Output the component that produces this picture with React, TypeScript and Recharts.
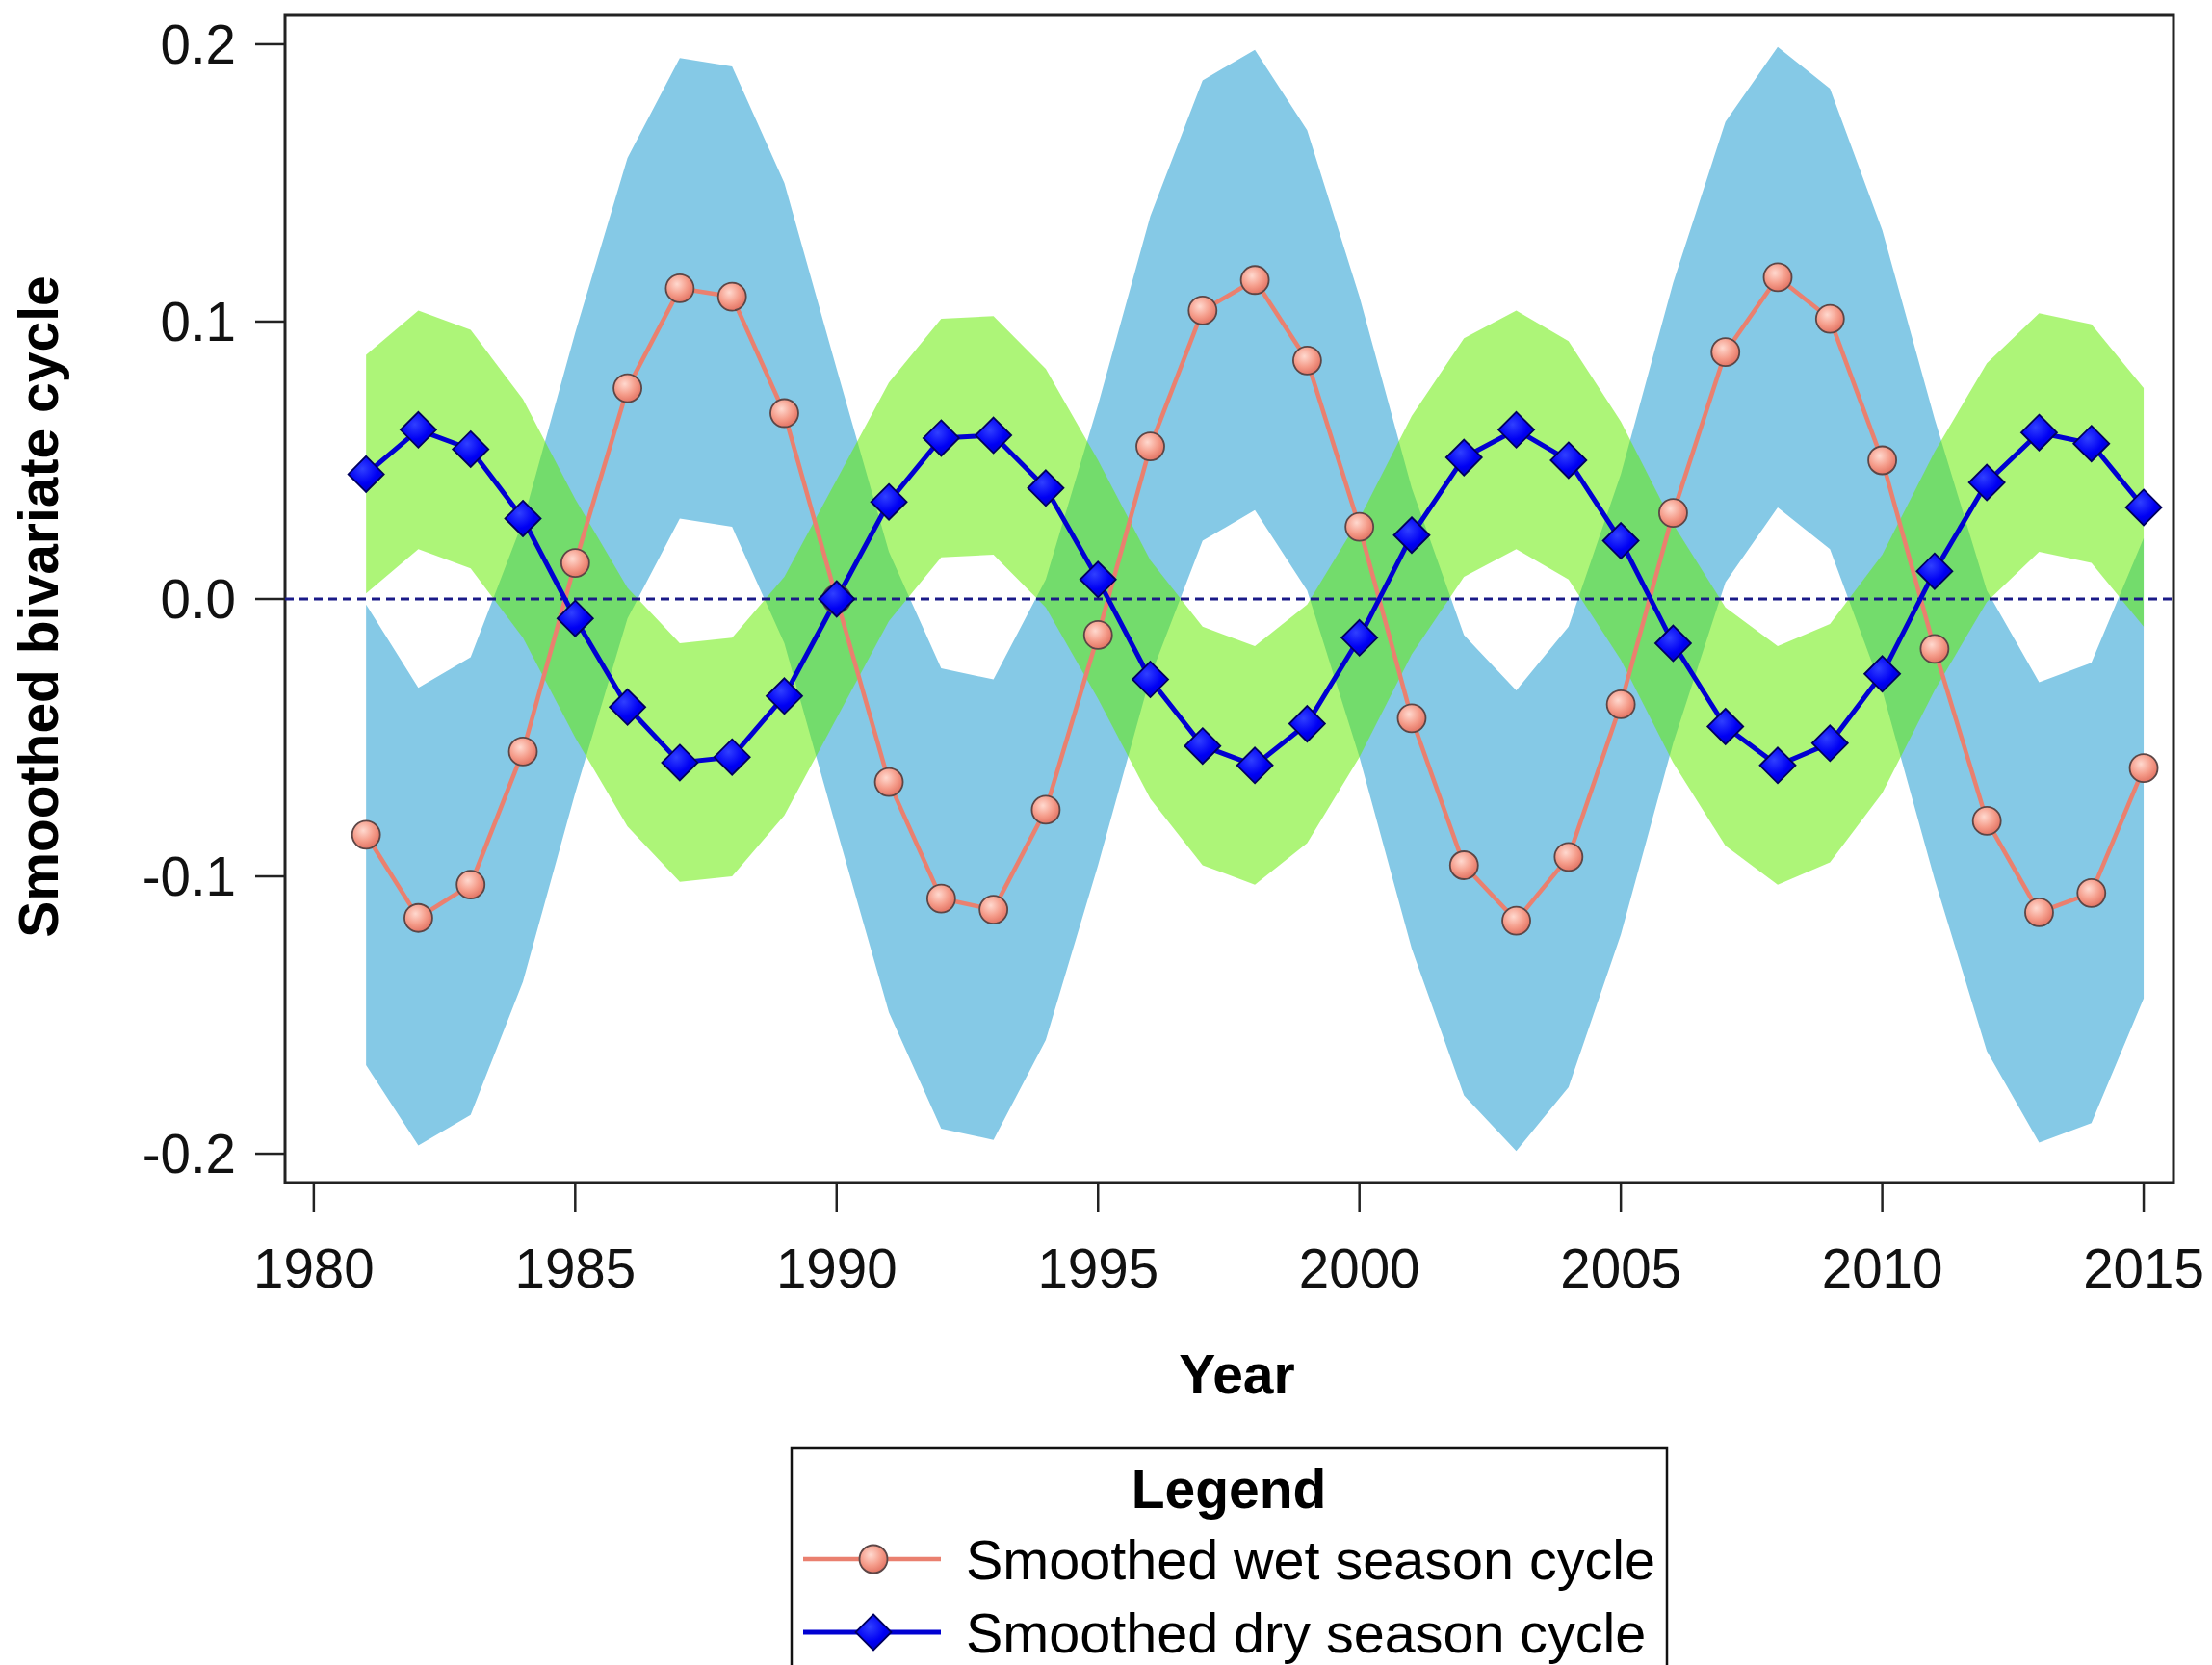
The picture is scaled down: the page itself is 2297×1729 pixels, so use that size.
import React from 'react';
import { ComposedChart, Area, Line, XAxis, YAxis, ReferenceLine, ReferenceArea } from 'recharts';

const years = [1981, 1982, 1983, 1984, 1985, 1986, 1987, 1988, 1989, 1990, 1991, 1992, 1993, 1994, 1995, 1996, 1997, 1998, 1999, 2000, 2001, 2002, 2003, 2004, 2005, 2006, 2007, 2008, 2009, 2010, 2011, 2012, 2013, 2014, 2015];

const wetCycle = [-0.085, -0.115, -0.103, -0.055, 0.013, 0.076, 0.112, 0.109, 0.067, 0.000, -0.066, -0.108, -0.112, -0.076, -0.013, 0.055, 0.104, 0.115, 0.086, 0.026, -0.043, -0.096, -0.116, -0.093, -0.038, 0.031, 0.089, 0.116, 0.101, 0.050, -0.018, -0.080, -0.113, -0.106, -0.061];
const wetLower = [-0.168, -0.197, -0.186, -0.138, -0.070, -0.007, 0.029, 0.026, -0.016, -0.083, -0.149, -0.191, -0.195, -0.159, -0.096, -0.028, 0.021, 0.032, 0.003, -0.057, -0.126, -0.179, -0.199, -0.176, -0.121, -0.052, 0.006, 0.033, 0.018, -0.033, -0.101, -0.163, -0.196, -0.189, -0.144];
const wetUpper = [-0.002, -0.032, -0.021, 0.028, 0.096, 0.159, 0.195, 0.192, 0.150, 0.083, 0.017, -0.025, -0.029, 0.007, 0.070, 0.138, 0.187, 0.198, 0.169, 0.109, 0.040, -0.013, -0.033, -0.010, 0.045, 0.114, 0.172, 0.199, 0.184, 0.133, 0.065, 0.003, -0.030, -0.023, 0.022];

const dryCycle = [0.045, 0.061, 0.054, 0.029, -0.007, -0.039, -0.059, -0.057, -0.035, 0.000, 0.035, 0.058, 0.059, 0.040, 0.007, -0.029, -0.053, -0.060, -0.045, -0.014, 0.023, 0.051, 0.061, 0.050, 0.021, -0.016, -0.046, -0.060, -0.052, -0.027, 0.010, 0.042, 0.060, 0.056, 0.033];
const dryLower = [0.002, 0.018, 0.011, -0.014, -0.050, -0.082, -0.102, -0.100, -0.078, -0.043, -0.008, 0.015, 0.016, -0.003, -0.036, -0.072, -0.096, -0.103, -0.088, -0.057, -0.020, 0.008, 0.018, 0.007, -0.022, -0.059, -0.089, -0.103, -0.095, -0.070, -0.033, -0.001, 0.017, 0.013, -0.010];
const dryUpper = [0.088, 0.104, 0.097, 0.072, 0.036, 0.004, -0.016, -0.014, 0.008, 0.043, 0.078, 0.101, 0.102, 0.083, 0.050, 0.014, -0.010, -0.017, -0.002, 0.029, 0.066, 0.094, 0.104, 0.093, 0.064, 0.027, -0.003, -0.017, -0.009, 0.016, 0.053, 0.085, 0.103, 0.099, 0.076];

const xTicks = [1980, 1985, 1990, 1995, 2000, 2005, 2010, 2015];
const yTicks = [-0.2, -0.1, 0.0, 0.1, 0.2];
const xDomain = [1979.45, 2015.57];
const yDomain = [-0.2104, 0.2104];
const seriesNames = ['Smoothed wet season cycle', 'Smoothed dry season cycle'];
const legendTitle = 'Legend';
const xTitle = 'Year';
const yTitle = 'Smoothed bivariate cycle';

const data = years.map((year, i) => ({
  year,
  wet: wetCycle[i],
  dry: dryCycle[i],
  wetBand: [wetLower[i], wetUpper[i]],
  dryBand: [dryLower[i], dryUpper[i]],
}));

const FONT = '"Liberation Sans", Arial, Helvetica, sans-serif';
const WET = '#ea806f';
const DRY = '#0000d2';
const BLUE_BAND = '#85c9e6';
const GREEN_BAND = 'rgb(100, 236, 0)';

const WetDot = (p: any) => {
  const { cx, cy, index } = p;
  if (cx == null || cy == null) return <g key={`w${index}`} />;
  return (
    <circle key={`w${index}`} cx={cx} cy={cy} r={14.5} fill="url(#wetGrad)" stroke="#5c4646" strokeWidth={1.8} />
  );
};

const DryDot = (p: any) => {
  const { cx, cy, index } = p;
  if (cx == null || cy == null) return <g key={`d${index}`} />;
  const s = 18.5;
  return (
    <polygon
      key={`d${index}`}
      points={`${cx},${cy - s} ${cx + s},${cy} ${cx},${cy + s} ${cx - s},${cy}`}
      fill="url(#dryGrad)"
      stroke="#00005e"
      strokeWidth={1.8}
    />
  );
};

const YTitle = (props: any) => {
  const vb = props.viewBox || {};
  const cy = (vb.y ?? 16) + (vb.height ?? 1212) / 2 + 8;
  return (
    <text
      transform={`translate(60, ${cy}) rotate(-90)`}
      textAnchor="middle"
      fontFamily={FONT}
      fontWeight="bold"
      fontSize={57}
      fill="#000"
    >
      {yTitle}
    </text>
  );
};

const XTitle = (props: any) => {
  const vb = props.viewBox || {};
  const cx = (vb.x ?? 296) + (vb.width ?? 1961) / 2 + 8;
  return (
    <text x={cx} y={1447} textAnchor="middle" fontFamily={FONT} fontWeight="bold" fontSize={57} fill="#000">
      {xTitle}
    </text>
  );
};

const LegendBox = () => (
  <svg width={2297} height={1729} style={{ position: 'absolute', left: 0, top: 0, pointerEvents: 'none' }}>
    <rect x={822} y={1504} width={909} height={260} fill="#fff" stroke="#111" strokeWidth={2.5} />
    <text x={1276} y={1566} textAnchor="middle" fontFamily={FONT} fontWeight="bold" fontSize={57} fill="#000">
      {legendTitle}
    </text>
    <line x1={834} x2={977} y1={1619} y2={1619} stroke={WET} strokeWidth={4.5} />
    <circle cx={907} cy={1619} r={14.5} fill="url(#wetGrad)" stroke="#5c4646" strokeWidth={1.8} />
    <text x={1003} y={1640} fontFamily={FONT} fontSize={57.5} fill="#000">
      {seriesNames[0]}
    </text>
    <line x1={834} x2={977} y1={1695} y2={1695} stroke={DRY} strokeWidth={5} />
    <polygon points="907,1676.5 925.5,1695 907,1713.5 888.5,1695" fill="url(#dryGrad)" stroke="#00005e" strokeWidth={1.8} />
    <text x={1003} y={1716} fontFamily={FONT} fontSize={57.5} fill="#000">
      {seriesNames[1]}
    </text>
  </svg>
);

export default function App() {
  return (
    <div style={{ position: 'absolute', left: 0, top: 0, width: 2297, height: 1729, background: '#fff', overflow: 'hidden' }}>
      <svg width={0} height={0} style={{ position: 'absolute' }}>
        <defs>
          <radialGradient id="wetGrad" cx="40%" cy="35%" r="70%">
            <stop offset="0%" stopColor="#ffd9cf" />
            <stop offset="55%" stopColor="#f59c8a" />
            <stop offset="100%" stopColor="#e06e5e" />
          </radialGradient>
          <radialGradient id="dryGrad" cx="40%" cy="35%" r="70%">
            <stop offset="0%" stopColor="#3040ff" />
            <stop offset="60%" stopColor="#0000f4" />
            <stop offset="100%" stopColor="#0000c4" />
          </radialGradient>
        </defs>
      </svg>
      <ComposedChart
        width={2297}
        height={1729}
        data={data}
        margin={{ top: 16, right: 40, bottom: 391, left: 0 }}
        style={{ fontFamily: FONT }}
      >
        <XAxis
          dataKey="year"
          type="number"
          domain={xDomain}
          ticks={xTicks}
          allowDataOverflow
          height={110}
          axisLine={false}
          tickLine={{ stroke: '#222', strokeWidth: 2.5 }}
          tickSize={31}
          tickMargin={38}
          tick={{ fontSize: 56.5, fill: '#111', fontFamily: FONT }}
          label={<XTitle />}
        />
        <YAxis
          type="number"
          domain={yDomain}
          ticks={yTicks}
          allowDataOverflow
          width={296}
          axisLine={false}
          tickLine={{ stroke: '#222', strokeWidth: 2.5 }}
          tickSize={31}
          tickMargin={20}
          tickFormatter={(v: number) => v.toFixed(1)}
          tick={{ fontSize: 56.5, fill: '#111', fontFamily: FONT }}
          label={<YTitle />}
        />
        <Area
          dataKey="wetBand"
          type="linear"
          stroke="none"
          fill={BLUE_BAND}
          fillOpacity={1}
          isAnimationActive={false}
          dot={false}
          activeDot={false}
        />
        <Area
          dataKey="dryBand"
          type="linear"
          stroke="none"
          fill={GREEN_BAND}
          fillOpacity={0.53}
          isAnimationActive={false}
          dot={false}
          activeDot={false}
        />
        <ReferenceLine y={0} stroke="#1a1a88" strokeWidth={3} strokeDasharray="9 6" />
        <Line
          dataKey="wet"
          type="linear"
          stroke={WET}
          strokeWidth={4.5}
          dot={WetDot}
          activeDot={false}
          isAnimationActive={false}
        />
        <Line
          dataKey="dry"
          type="linear"
          stroke={DRY}
          strokeWidth={5}
          dot={DryDot}
          activeDot={false}
          isAnimationActive={false}
        />
        <ReferenceArea
          x1={xDomain[0]}
          x2={xDomain[1]}
          y1={yDomain[0]}
          y2={yDomain[1]}
          fill="none"
          fillOpacity={0}
          stroke="#222"
          strokeWidth={3}
          ifOverflow="visible"
        />
      </ComposedChart>
      <LegendBox />
    </div>
  );
}
